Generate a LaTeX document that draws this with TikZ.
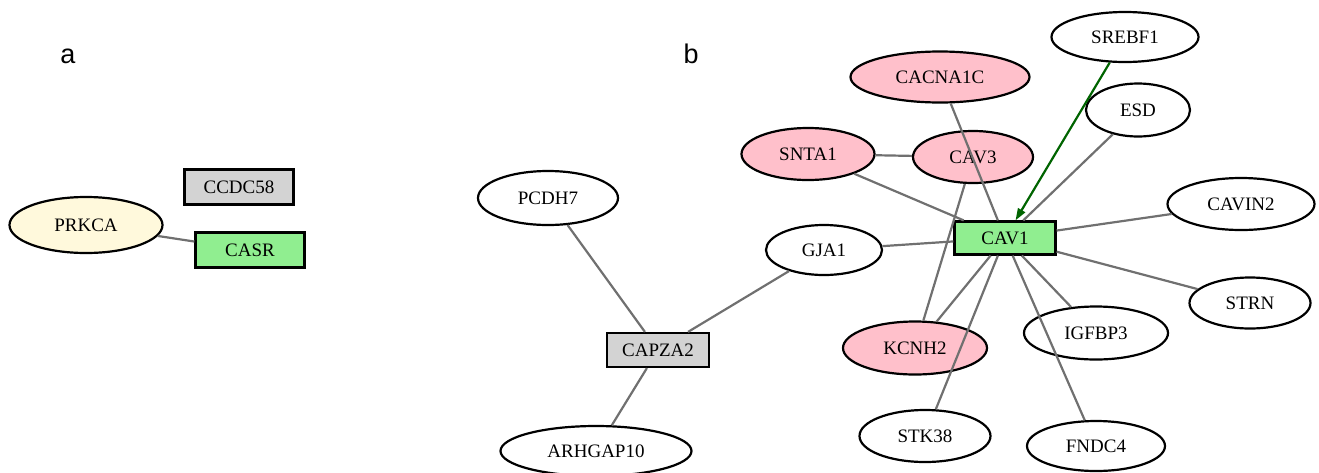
\documentclass[tikz,border=0pt]{standalone}
\usepackage{fontspec}
\setmainfont{Liberation Serif}
\newfontfamily\panelfont{Liberation Sans}
\usetikzlibrary{arrows.meta,shapes.geometric}
\definecolor{pinkfill}{HTML}{FFC0CB}
\definecolor{greenfill}{HTML}{90EE90}
\definecolor{grayfill}{HTML}{D3D3D3}
\definecolor{creamfill}{HTML}{FFF9DC}
\definecolor{edgegray}{HTML}{707070}
\definecolor{arrgreen}{HTML}{006400}

\begin{document}
\begin{tikzpicture}[
    x=1pt, y=-1pt,
    gene/.style={draw, ellipse, line width=2.2pt, fill=white, inner sep=0pt, minimum height=52pt, font=\fontsize{19}{21}\selectfont},
    box/.style={draw, rectangle, line width=2.2pt, inner sep=0pt, minimum width=104pt, minimum height=35pt, font=\fontsize{19}{21}\selectfont},
    link/.style={edgegray, line width=2.2pt},
    arr/.style={-{Triangle[length=12pt, width=8pt]}, arrgreen, line width=2.2pt},
    panel/.style={font=\panelfont\fontsize{27}{29}\selectfont}
]
\useasboundingbox (0,0) rectangle (1319,472);

% panel a
\node[panel] (la) at (68,56) {a};
\node[gene, fill=creamfill, minimum width=153pt, minimum height=56pt] (prkca) at (86,225) {PRKCA};
\node[box, fill=grayfill, minimum width=109pt] (ccdc58) at (239,187) {CCDC58};
\node[box, fill=greenfill, minimum width=109pt] (casr) at (250,250) {CASR};
\draw[link] (prkca) -- (casr);

% panel b
\node[panel] (lb) at (691,54) {b};
\node[box, fill=greenfill, minimum width=101pt, minimum height=33pt] (cav1) at (1005,238) {CAV1};
\node[box, fill=grayfill, minimum width=102pt, minimum height=34pt] (capza2) at (658,350) {CAPZA2};
\node[gene, minimum width=147pt, minimum height=50pt] (srebf1) at (1125,37) {SREBF1};
\node[gene, minimum width=104pt, minimum height=53pt] (esd) at (1138,110) {ESD};
\node[gene, minimum width=147pt] (cavin2) at (1241,204) {CAVIN2};
\node[gene, fill=pinkfill, minimum width=179pt, minimum height=51pt] (cacna1c) at (940,77) {CACNA1C};
\node[gene, fill=pinkfill, minimum width=133pt] (snta1) at (808,154) {SNTA1};
\node[gene, fill=pinkfill, minimum width=120pt] (cav3) at (973,157) {CAV3};
\node[gene, minimum width=116pt, minimum height=50pt] (gja1) at (824,250) {GJA1};
\node[gene, minimum width=140pt, minimum height=54pt] (pcdh7) at (548,198) {PCDH7};
\node[gene, minimum width=191pt, minimum height=50pt] (arhgap10) at (596,451) {ARHGAP10};
\node[gene, fill=pinkfill, minimum width=144pt, minimum height=53pt] (kcnh2) at (915,348) {KCNH2};
\node[gene, minimum width=144pt, minimum height=53pt] (igfbp3) at (1096,333) {IGFBP3};
\node[gene, minimum width=121pt, minimum height=51pt] (strn) at (1250,303) {STRN};
\node[gene, minimum width=131pt] (stk38) at (925,436) {STK38};
\node[gene, minimum width=138pt, minimum height=50pt] (fndc4) at (1096,446) {FNDC4};

\draw[link] (pcdh7) -- (capza2);
\draw[link] (capza2) -- (gja1);
\draw[link] (capza2) -- (arhgap10);
\draw[link] (gja1) -- (cav1);
\draw[link] (snta1) -- (cav3);
\draw[link] (snta1) -- (cav1);
\draw[link] (cacna1c) -- (cav1);
\draw[link] (cav3) -- (kcnh2);
\draw[link] (cav1) -- (kcnh2);
\draw[link] (cav1) -- (stk38);
\draw[link] (cav1) -- (igfbp3);
\draw[link] (cav1) -- (fndc4);
\draw[link] (cav1) -- (strn);
\draw[link] (cav1) -- (cavin2);
\draw[link] (cav1) -- (esd);
\draw[arr] (srebf1) -- (cav1);
\end{tikzpicture}
\end{document}
